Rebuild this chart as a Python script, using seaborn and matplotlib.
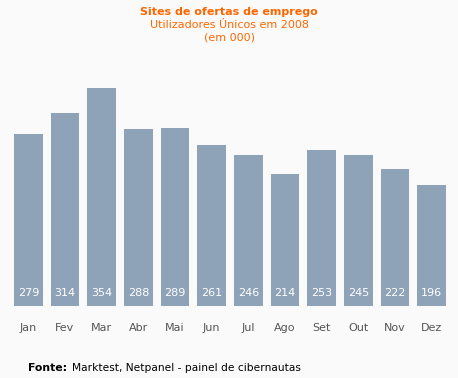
import matplotlib
matplotlib.use("Agg")
import matplotlib.pyplot as plt
import seaborn as sns
import pandas as pd

months = ["Jan", "Fev", "Mar", "Abr", "Mai", "Jun", "Jul", "Ago", "Set", "Out", "Nov", "Dez"]
visitors = [279, 314, 354, 288, 289, 261, 246, 214, 253, 245, 222, 196]

df = pd.DataFrame({"mes": months, "utilizadores": visitors})

bg = "#fafafa"
bar_color = "#8fa3b8"
orange = "#ff6600"

sns.set_style("white")
plt.rcParams["font.family"] = ["DejaVu Sans"]

fig = plt.figure(figsize=(4.58, 3.78), dpi=100, facecolor=bg)
ax = fig.add_axes([10 / 458, 72 / 378, 440 / 458, 226 / 378], facecolor=bg)

sns.barplot(data=df, x="mes", y="utilizadores", color=bar_color, saturation=1,
            width=0.79, linewidth=0, ax=ax)

ax.set_ylim(0, 367)
ax.set_xlim(-0.5, len(months) - 0.5)
for s in ax.spines.values():
    s.set_visible(False)
ax.set_yticks([])
ax.set_xlabel("")
ax.set_ylabel("")
ax.tick_params(axis="x", length=0, pad=12, labelsize=8, labelcolor="#555555")

# value labels inside the bottom of each bar
for i, v in enumerate(visitors):
    ax.text(i, 21, str(v), ha="center", va="center", color="white", fontsize=8)

fig.text(0.5, 1 - 12 / 378, "Sites de ofertas de emprego", ha="center", va="center",
         color=orange, fontsize=8, fontweight="bold")
fig.text(0.5, 1 - 24.5 / 378, "Utilizadores Únicos em 2008", ha="center", va="center",
         color=orange, fontsize=8)
fig.text(0.5, 1 - 37 / 378, "(em 000)", ha="center", va="center",
         color=orange, fontsize=8)

fig.text(28 / 458, 1 - 368 / 378, "Fonte:", ha="left", va="center",
         fontsize=7.8, fontweight="bold", color="black")
fig.text(72 / 458, 1 - 368 / 378, "Marktest, Netpanel - painel de cibernautas",
         ha="left", va="center", fontsize=7.7, color="black")

fig.savefig("out.png", dpi=100, facecolor=bg)
